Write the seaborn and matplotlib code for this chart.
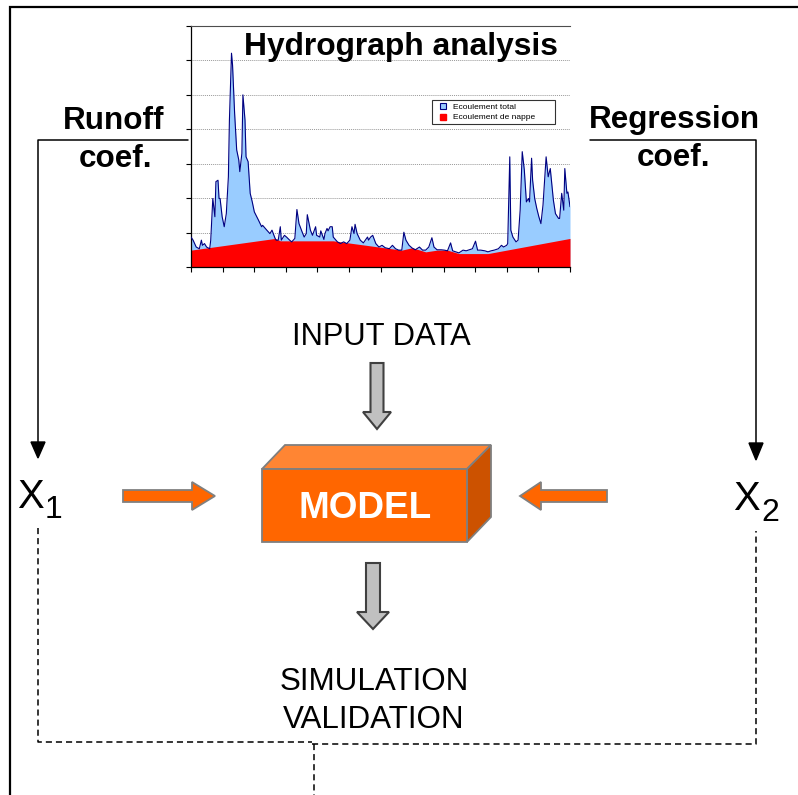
import numpy as np
import pandas as pd
import matplotlib
matplotlib.use("Agg")
import matplotlib.pyplot as plt
import seaborn as sns
from matplotlib.patches import Polygon, FancyArrow
from matplotlib.lines import Line2D

# daily hydrograph (day of year, flow)
day = [0, 2, 5, 8, 10, 11, 13, 15, 18, 19,
       21, 23, 24, 26, 27, 28, 30, 32, 34, 36,
       37, 39, 40, 42, 44, 46, 47, 49, 50, 52,
       53, 55, 57, 59, 61, 65, 68, 69, 73, 76,
       78, 81, 82, 84, 86, 87, 89, 90, 92, 95,
       97, 100, 102, 104, 107, 109, 111, 112, 115, 117,
       120, 121, 124, 125, 128, 129, 131, 132, 134, 136,
       137, 141, 144, 147, 150, 153, 155, 157, 158, 160,
       163, 166, 170, 171, 173, 175, 178, 181, 184, 187,
       191, 194, 197, 200, 203, 205, 207, 210, 213, 216,
       220, 223, 226, 229, 232, 234, 237, 241, 244, 247,
       250, 252, 255, 258, 262, 265, 268, 271, 274, 276,
       279, 283, 286, 289, 292, 296, 299, 301, 304, 305,
       307, 308, 310, 313, 315, 317, 319, 321, 323, 325,
       326, 328, 329, 331, 333, 335, 337, 339, 342, 344,
       346, 349, 351, 354, 355, 357, 359, 360, 362, 363,
       365]
total_flow = [0.87, 0.78, 0.58, 0.53, 0.78, 0.63, 0.68, 0.58, 0.53, 0.78,
              1.99, 1.46, 2.48, 2.52, 1.99, 1.99, 1.46, 1.17, 1.55, 2.62,
              4.27, 6.21, 5.87, 4.47, 3.40, 3.11, 2.77, 3.30, 5.00, 4.27,
              3.20, 3.06, 2.14, 1.89, 1.60, 1.36, 1.17, 1.21, 1.07, 0.97,
              1.07, 0.83, 0.78, 0.78, 1.17, 0.78, 0.87, 0.92, 0.87, 0.78,
              0.73, 0.83, 1.67, 1.26, 1.02, 0.87, 0.97, 1.52, 1.07, 0.92,
              1.17, 0.92, 0.87, 1.05, 0.80, 0.97, 1.12, 1.05, 1.17, 1.17,
              0.87, 0.73, 0.68, 0.73, 0.68, 0.78, 1.17, 0.97, 1.24, 0.97,
              0.78, 0.70, 0.87, 0.78, 0.87, 0.92, 0.68, 0.58, 0.63, 0.56,
              0.53, 0.63, 0.53, 0.49, 0.49, 1.01, 0.78, 0.63, 0.55, 0.50,
              0.58, 0.49, 0.49, 0.58, 0.85, 0.58, 0.50, 0.50, 0.49, 0.47,
              0.70, 0.47, 0.44, 0.41, 0.49, 0.47, 0.50, 0.53, 0.75, 0.49,
              0.49, 0.47, 0.44, 0.47, 0.49, 0.53, 0.63, 0.58, 0.63, 0.68,
              3.20, 1.07, 0.87, 0.73, 0.78, 1.65, 3.35, 2.82, 1.89, 1.99,
              1.89, 3.16, 2.52, 1.99, 1.70, 1.46, 1.26, 1.80, 3.20, 2.62,
              2.86, 1.94, 1.55, 1.41, 1.41, 2.14, 1.65, 2.86, 2.14, 2.18,
              1.75]

# baseflow (groundwater) separation line
base_day = [0, 81, 86, 137, 203, 213, 226, 237, 247, 258, 286, 365]
base_flow = [0.49, 0.83, 0.76, 0.76, 0.49, 0.56, 0.44, 0.49, 0.49, 0.39, 0.39, 0.83]

legend_labels = ["Ecoulement total", "Ecoulement de nappe"]
flow_ticks = [0, 1, 2, 3, 4, 5, 6, 7]
month_ticks = np.linspace(0, 365, 13)

ORANGE = "#FF6600"
LIGHT_BLUE = "#99CCFF"
NAVY = "#000080"

sns.set_theme(style="white")
plt.rcParams["font.family"] = ["Liberation Sans", "DejaVu Sans"]
plt.rcParams["text.color"] = "black"

fig = plt.figure(figsize=(7.98, 7.95), dpi=100)

# hydrograph inset
hydro = pd.DataFrame({"day": day, "flow": total_flow})
base = pd.DataFrame({"day": base_day, "flow": base_flow})

ax = fig.add_axes([191 / 798, 1 - 267 / 795, 379 / 798, 241 / 795])
ax.set_zorder(1)
ax.fill_between(hydro["day"], 0, hydro["flow"], color=LIGHT_BLUE, lw=0, zorder=1)
ax.fill_between(base["day"], 0, base["flow"], color="#FF0000", lw=0, zorder=2)
sns.lineplot(data=hydro, x="day", y="flow", color=NAVY, lw=0.8, ax=ax, zorder=3)
ax.set_xlim(0, 365)
ax.set_ylim(0, 7)
ax.set_xticks(month_ticks)
ax.set_yticks(flow_ticks)
ax.set_xlabel("")
ax.set_ylabel("")
ax.yaxis.grid(True, color="0.6", ls=(0, (1, 1)), lw=0.7)
ax.set_axisbelow(True)
ax.tick_params(left=True, bottom=True, direction="out", length=3.5, width=0.8,
               color="black", labelleft=False, labelbottom=False)
for side in ["left", "bottom"]:
    ax.spines[side].set_color("black")
    ax.spines[side].set_linewidth(0.9)
ax.spines["top"].set_color("0.3")
ax.spines["top"].set_linewidth(0.8)
ax.spines["right"].set_visible(False)

handles = [Line2D([], [], ls="none", marker="s", markersize=4.5,
                  markerfacecolor=LIGHT_BLUE, markeredgecolor=NAVY, markeredgewidth=0.8),
           Line2D([], [], ls="none", marker="s", markersize=4.5,
                  markerfacecolor="#FF0000", markeredgecolor="#FF0000")]
leg = ax.legend(handles, legend_labels, loc="upper left",
                bbox_to_anchor=(0.636, 0.693, 0.3245, 0), mode="expand",
                fontsize=6, frameon=True, fancybox=False, handlelength=2.0,
                handletextpad=0.2, borderpad=0.35, labelspacing=0.35,
                borderaxespad=0)
leg.get_frame().set_edgecolor("black")
leg.get_frame().set_linewidth(0.8)

# diagram layer, in pixel coordinates
bg = fig.add_axes([0, 0, 1, 1])
bg.set_zorder(2)
bg.set_xlim(0, 798)
bg.set_ylim(795, 0)
bg.axis("off")

# outer frame
bg.plot([10, 10, 798], [795, 7, 7], color="black", lw=1.6, solid_joinstyle="miter")

bg.text(558, 55, "Hydrograph analysis", ha="right", va="baseline",
        fontsize=22.9, fontweight="bold")

# coefficient connectors
bg.plot([188, 38, 38], [140, 140, 444], color="black", lw=1.1)
bg.add_patch(Polygon([(31, 442), (45, 442), (38, 458)], closed=True, color="black"))
bg.plot([590, 756, 756], [140, 140, 445], color="black", lw=1.1)
bg.add_patch(Polygon([(749, 443), (763, 443), (756, 460)], closed=True, color="black"))

bg.text(114, 129, "Runoff", ha="center", va="baseline", fontsize=22.6, fontweight="bold")
bg.text(115, 167, "coef.", ha="center", va="baseline", fontsize=22.6, fontweight="bold")
bg.text(674, 128, "Regression", ha="center", va="baseline", fontsize=22.6, fontweight="bold")
bg.text(673, 166, "coef.", ha="center", va="baseline", fontsize=22.6, fontweight="bold")

bg.text(381, 345, "INPUT DATA", ha="center", va="baseline", fontsize=22.2)
bg.text(374, 690, "SIMULATION", ha="center", va="baseline", fontsize=22.6)
bg.text(374, 728, "VALIDATION", ha="center", va="baseline", fontsize=22.6)

# X1 / X2
bg.text(17, 508, "X", ha="left", va="baseline", fontsize=28.8)
bg.text(45, 518, "1", ha="left", va="baseline", fontsize=23)
bg.text(733, 510, "X", ha="left", va="baseline", fontsize=28.8)
bg.text(761, 521, "2", ha="left", va="baseline", fontsize=23)

# gray down arrows
bg.add_patch(FancyArrow(377, 363, 0, 66, width=13, head_width=28, head_length=17,
                        length_includes_head=True, fc="#C0C0C0", ec="#404040", lw=1.5))
bg.add_patch(FancyArrow(373, 563, 0, 66, width=14, head_width=32, head_length=17,
                        length_includes_head=True, fc="#C0C0C0", ec="#404040", lw=1.5))

# orange side arrows
bg.add_patch(FancyArrow(123, 496, 92, 0, width=12, head_width=28, head_length=23,
                        length_includes_head=True, fc=ORANGE, ec="#808080", lw=1.3))
bg.add_patch(FancyArrow(607, 496, -87, 0, width=12, head_width=28, head_length=21,
                        length_includes_head=True, fc=ORANGE, ec="#808080", lw=1.3))

# model box
bg.add_patch(Polygon([(262, 469), (285, 445), (491, 445), (467, 469)], closed=True,
                     fc="#FF8533", ec="#7F7F7F", lw=1.3))
bg.add_patch(Polygon([(467, 469), (491, 445), (491, 517), (467, 542)], closed=True,
                     fc="#CC5200", ec="#7F7F7F", lw=1.3))
bg.add_patch(Polygon([(262, 469), (467, 469), (467, 542), (262, 542)], closed=True,
                     fc=ORANGE, ec="#7F7F7F", lw=1.3))
bg.text(365, 518, "MODEL", ha="center", va="baseline", fontsize=26.6,
        fontweight="bold", color="white")

# dashed feedback loop
dash = dict(color="black", lw=1.1, ls=(0, (4, 2.6)))
bg.plot([38, 38, 312], [528, 742, 742], **dash)
bg.plot([312, 756, 756], [744, 744, 531], **dash)
bg.plot([314, 314], [744, 795], **dash)

fig.savefig("out.png", dpi=100)
